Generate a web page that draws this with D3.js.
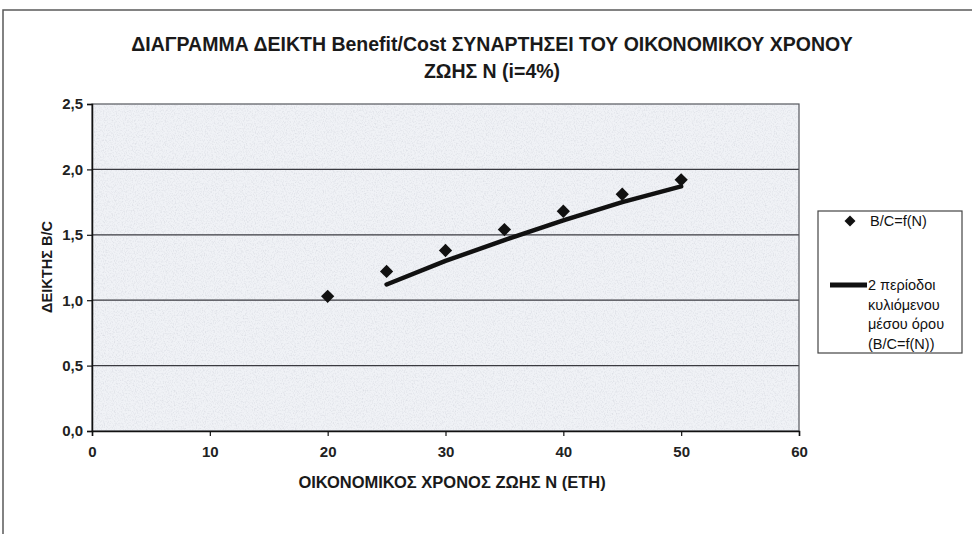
<!DOCTYPE html>
<html>
<head>
<meta charset="utf-8">
<script src="https://cdn.jsdelivr.net/npm/d3@7/dist/d3.min.js"></script>
<style>
  html, body { margin: 0; padding: 0; background: #ffffff; }
  svg { display: block; font-family: "Liberation Sans", Arial, sans-serif; }
</style>
</head>
<body>
<svg id="chart" width="972" height="534"></svg>
<script>
// Economic life N (years) and the Benefit/Cost ratio for each
const years = [20, 25, 30, 35, 40, 45, 50];
const bcValues = [1.03, 1.22, 1.38, 1.54, 1.68, 1.81, 1.92];

// 2-period moving average trendline of B/C
const maYears = [25, 30, 35, 40, 45, 50];
const maValues = [1.12, 1.30, 1.46, 1.61, 1.75, 1.87];

// Axis ticks
const xTicks = [0, 10, 20, 30, 40, 50, 60];
const yTicks = [0, 0.5, 1.0, 1.5, 2.0, 2.5];

const titleLines = [
  "ΔΙΑΓΡΑΜΜΑ ΔΕΙΚΤΗ Benefit/Cost ΣΥΝΑΡΤΗΣΕΙ ΤΟΥ ΟΙΚΟΝΟΜΙΚΟΥ ΧΡΟΝΟΥ",
  "ΖΩΗΣ Ν (i=4%)"
];
const xTitle = "ΟΙΚΟΝΟΜΙΚΟΣ ΧΡΟΝΟΣ ΖΩΗΣ Ν (ΕΤΗ)";
const yTitle = "ΔΕΙΚΤΗΣ Β/C";
const legendPoints = "B/C=f(N)";
const legendTrend = ["2 περίοδοι", "κυλιόμενου", "μέσου όρου", "(B/C=f(N))"];

const svg = d3.select("#chart");
const plot = { left: 92, right: 799, top: 104, bottom: 431 };

const x = d3.scaleLinear().domain([0, 60]).range([plot.left, plot.right]);
const y = d3.scaleLinear().domain([0, 2.5]).range([plot.bottom, plot.top]);
const fmt = d => d.toFixed(1).replace(".", ",");

// speckled plot-area texture
const defs = svg.append("defs");
const grain = defs.append("filter").attr("id", "grain")
  .attr("x", 0).attr("y", 0).attr("width", 1).attr("height", 1);
grain.append("feTurbulence").attr("type", "fractalNoise")
  .attr("baseFrequency", "0.9 0.6").attr("numOctaves", 2).attr("seed", 7).attr("result", "noise");
grain.append("feColorMatrix").attr("in", "noise").attr("type", "matrix")
  .attr("values", "0 0 0 0 0.62  0 0 0 0 0.64  0 0 0 0 0.70  1.3 0 0 0 -0.58").attr("result", "speck");
grain.append("feComposite").attr("in", "speck").attr("in2", "SourceGraphic").attr("operator", "in");

// outer chart frame (left and top edges)
svg.append("path")
  .attr("d", "M3,534 L3,10 L972,10")
  .attr("fill", "none").attr("stroke", "#5a5a5a").attr("stroke-width", 1.5);

// plot area
svg.append("rect")
  .attr("x", plot.left).attr("y", plot.top)
  .attr("width", plot.right - plot.left).attr("height", plot.bottom - plot.top)
  .attr("fill", "#f0f2f6");
svg.append("rect")
  .attr("x", plot.left).attr("y", plot.top)
  .attr("width", plot.right - plot.left).attr("height", plot.bottom - plot.top)
  .attr("fill", "#ffffff").attr("filter", "url(#grain)");

// horizontal gridlines
svg.append("g").selectAll("line")
  .data(yTicks.filter(v => v > 0 && v < 2.5))
  .join("line")
  .attr("x1", plot.left).attr("x2", plot.right)
  .attr("y1", d => y(d)).attr("y2", d => y(d))
  .attr("stroke", "#3a3a40").attr("stroke-width", 1.2);

// plot border
svg.append("rect")
  .attr("x", plot.left).attr("y", plot.top)
  .attr("width", plot.right - plot.left).attr("height", plot.bottom - plot.top)
  .attr("fill", "none").attr("stroke", "#55585e").attr("stroke-width", 1.2);

// axes
const yAxis = svg.append("g")
  .attr("transform", `translate(${plot.left},0)`)
  .call(d3.axisLeft(y).tickValues(yTicks).tickFormat(fmt).tickSize(5).tickPadding(4));
const xAxis = svg.append("g")
  .attr("transform", `translate(0,${plot.bottom})`)
  .call(d3.axisBottom(x).tickValues(xTicks).tickSize(5).tickPadding(10));
[xAxis, yAxis].forEach(g => {
  g.select(".domain").attr("stroke", "#111").attr("stroke-width", 1.5);
  g.selectAll(".tick line").attr("stroke", "#111").attr("stroke-width", 1.2);
  g.selectAll(".tick text")
    .attr("fill", "#222").attr("font-size", 15).attr("font-weight", "bold")
    .attr("font-family", "'Liberation Sans', Arial, sans-serif");
});

// moving average trendline
const maData = maYears.map((n, i) => ({ n, v: maValues[i] }));
svg.append("path")
  .datum(maData)
  .attr("d", d3.line().x(d => x(d.n)).y(d => y(d.v)))
  .attr("fill", "none").attr("stroke", "#111").attr("stroke-width", 4.5)
  .attr("stroke-linecap", "round").attr("stroke-linejoin", "round");

// data points (diamonds)
const bcData = years.map((n, i) => ({ n, v: bcValues[i] }));
const diamond = d3.symbol(d3.symbolSquare, 88);
svg.append("g").selectAll("path")
  .data(bcData)
  .join("path")
  .attr("d", diamond)
  .attr("transform", d => `translate(${x(d.n)},${y(d.v)}) rotate(45)`)
  .attr("fill", "#111");

// title
svg.append("g").selectAll("text")
  .data(titleLines)
  .join("text")
  .attr("x", 492).attr("y", (d, i) => 51 + i * 27)
  .attr("text-anchor", "middle")
  .attr("font-size", 19.5).attr("font-weight", "bold").attr("fill", "#1a1a1a")
  .text(d => d);

// axis titles
svg.append("text")
  .attr("x", 452).attr("y", 488)
  .attr("text-anchor", "middle")
  .attr("font-size", 16.5).attr("font-weight", "bold").attr("fill", "#1a1a1a")
  .text(xTitle);
svg.append("text")
  .attr("transform", `translate(52,267) rotate(-90)`)
  .attr("text-anchor", "middle")
  .attr("font-size", 14.5).attr("font-weight", "bold").attr("fill", "#1a1a1a")
  .attr("textLength", 92).attr("lengthAdjust", "spacingAndGlyphs")
  .text(yTitle);

// legend
const lg = svg.append("g");
lg.append("rect")
  .attr("x", 818).attr("y", 211).attr("width", 144).attr("height", 142)
  .attr("fill", "#ffffff").attr("stroke", "#444").attr("stroke-width", 1.2);
lg.append("path")
  .attr("d", d3.symbol(d3.symbolSquare, 60))
  .attr("transform", "translate(850,221) rotate(45)")
  .attr("fill", "#111");
lg.append("text")
  .attr("x", 870).attr("y", 226)
  .attr("font-size", 14.5).attr("fill", "#111")
  .text(legendPoints);
lg.append("line")
  .attr("x1", 830).attr("x2", 867).attr("y1", 285).attr("y2", 285)
  .attr("stroke", "#111").attr("stroke-width", 5);
lg.append("g").selectAll("text")
  .data(legendTrend)
  .join("text")
  .attr("x", 868).attr("y", (d, i) => 290 + i * 19.5)
  .attr("font-size", 14.5).attr("fill", "#111")
  .text(d => d);
</script>
</body>
</html>
